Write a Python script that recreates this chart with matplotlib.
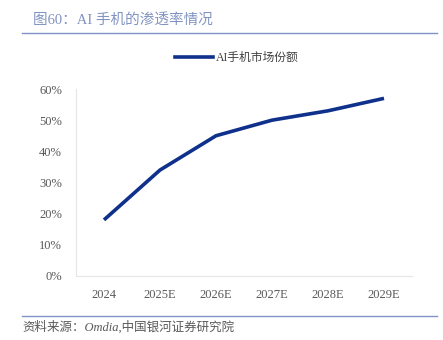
import matplotlib.pyplot as plt
from matplotlib.lines import Line2D

plt.rcParams['font.family'] = ['Liberation Serif', 'Noto Sans CJK SC']

years = ['2024', '2025E', '2026E', '2027E', '2028E', '2029E']
share = [18, 34, 45, 50, 53, 57]
yticks = [0, 10, 20, 30, 40, 50, 60]

fig = plt.figure(figsize=(4.43, 3.4), dpi=100)
ax = fig.add_axes([76/443, 1-276/340, (412-76)/443, (276-89)/340])

ax.plot(range(len(years)), share, color='#0f318c', lw=2.6, solid_capstyle='butt')
ax.set_xlim(-0.5, len(years)-0.5)
ax.set_ylim(0, 60)
ax.set_yticks(yticks)
ax.set_yticklabels([f'{v}%' for v in yticks])
ax.set_xticks(range(len(years)))
ax.set_xticklabels(years)
ax.tick_params(length=0, labelsize=9, colors='#595959', pad=9)
ax.tick_params(axis='y', pad=10)
for s in ['top', 'right']:
    ax.spines[s].set_visible(False)
for s in ['left', 'bottom']:
    ax.spines[s].set_color('#e6e6e6')
    ax.spines[s].set_linewidth(0.8)

leg = ax.legend([Line2D([], [], color='#0f318c', lw=2.6)], ['AI手机市场份额'],
                loc='center', bbox_to_anchor=(237/443, 1-58/340), bbox_transform=fig.transFigure,
                frameon=False, fontsize=8.5, handlelength=3.2, handletextpad=0.3)
for t in leg.get_texts():
    t.set_color('#404040')

fig.text(33/443, 1-20/340, '图60：AI 手机的渗透率情况', fontsize=10.5, color='#8193c2',
         va='center', ha='left')
fig.add_artist(Line2D([22/443, 437/443], [1-33/340, 1-33/340], color='#7f93c9', lw=1))
fig.add_artist(Line2D([22/443, 437/443], [1-316/340, 1-316/340], color='#7f93c9', lw=1))
fig.text(22/443, 1-327/340, '资料来源：Omdia,中国银河证券研究院', fontsize=9, color='#595959',
         va='center', ha='left', style='italic')

fig.savefig('out.png', dpi=100)
